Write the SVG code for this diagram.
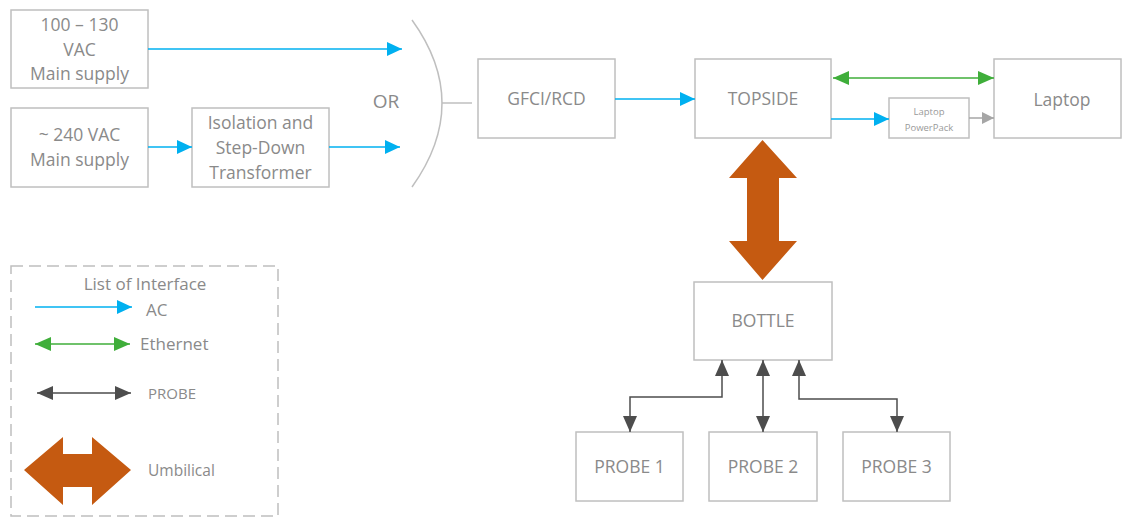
<svg xmlns="http://www.w3.org/2000/svg" width="1122" height="518" viewBox="0 0 1122 518">
<defs>
<style>
.box{fill:#fff;stroke:#bfbfbf;stroke-width:1.5}
.t{font-family:"Open Sans","Noto Sans",sans-serif;font-size:17.5px;fill:#8a8a8a;text-anchor:middle}
.ts{font-family:"Open Sans","Noto Sans",sans-serif;font-size:9.5px;fill:#9a9a9a;text-anchor:middle}
.tl{font-family:"Open Sans","Noto Sans",sans-serif;font-size:17px;fill:#8a8a8a}
.ac{stroke:#00b0f0;stroke-width:1.5;fill:none}
.eth{stroke:#3fae3a;stroke-width:1.5;fill:none}
.pr{stroke:#4d4d4d;stroke-width:1.5;fill:none}
.gr{stroke:#a6a6a6;stroke-width:1.5;fill:none}
.umb{fill:#c55a11}
</style>
<marker id="mAc" markerUnits="userSpaceOnUse" markerWidth="15" markerHeight="14" viewBox="0 0 15 14" refX="15" refY="7" orient="auto-start-reverse"><path d="M0,0 L15,7 L0,14 Z" fill="#00b0f0"/></marker>
<marker id="mEth" markerUnits="userSpaceOnUse" markerWidth="16" markerHeight="14" viewBox="0 0 16 14" refX="16" refY="7" orient="auto-start-reverse"><path d="M0,0 L16,7 L0,14 Z" fill="#3fae3a"/></marker>
<marker id="mPr" markerUnits="userSpaceOnUse" markerWidth="16" markerHeight="14" viewBox="0 0 16 14" refX="16" refY="7" orient="auto-start-reverse"><path d="M0,0 L16,7 L0,14 Z" fill="#4d4d4d"/></marker>
<marker id="mGr" markerUnits="userSpaceOnUse" markerWidth="12" markerHeight="12" viewBox="0 0 12 12" refX="12" refY="6" orient="auto-start-reverse"><path d="M0,0 L12,6 L0,12 Z" fill="#a6a6a6"/></marker>
</defs>

<g id="supply1"><rect class="box" x="11" y="10" width="137" height="78"/>
<text class="t" x="79.5" y="31">100 – 130</text><text class="t" x="79.5" y="56">VAC</text><text class="t" x="79.5" y="80">Main supply</text></g>
<g id="supply2"><rect class="box" x="11" y="108" width="137" height="79"/>
<text class="t" x="79.5" y="141">~ 240 VAC</text><text class="t" x="79.5" y="166">Main supply</text></g>
<g id="isolation"><rect class="box" x="192" y="108" width="137" height="79"/>
<text class="t" x="260.5" y="129">Isolation and</text><text class="t" x="260.5" y="154">Step-Down</text><text class="t" x="260.5" y="179">Transformer</text></g>
<g id="or"><path d="M412,20 Q472,103 412,187" fill="none" stroke="#bfbfbf" stroke-width="1.5"/>
<line x1="442" y1="103" x2="472" y2="103" stroke="#bfbfbf" stroke-width="1.5"/>
<text class="t" x="386" y="108" style="font-size:19px">OR</text></g>
<g id="gfci"><rect class="box" x="478" y="59" width="137" height="79"/><text class="t" x="546.5" y="105">GFCI/RCD</text></g>
<g id="topside"><rect class="box" x="695" y="59" width="136" height="79"/><text class="t" x="763" y="105">TOPSIDE</text></g>
<g id="powerpack"><rect class="box" x="889" y="98" width="80" height="40"/><text class="ts" x="929" y="115">Laptop</text><text class="ts" x="929" y="131">PowerPack</text></g>
<g id="laptop"><rect class="box" x="994" y="59" width="127" height="79"/><text class="t" x="1062" y="106">Laptop</text></g>
<g id="bottle"><rect class="box" x="694" y="282" width="138" height="78"/><text class="t" x="763" y="327">BOTTLE</text></g>
<g id="probe1"><rect class="box" x="576" y="432" width="107" height="69"/><text class="t" x="629.5" y="473">PROBE 1</text></g>
<g id="probe2"><rect class="box" x="709" y="432" width="108" height="69"/><text class="t" x="763" y="473">PROBE 2</text></g>
<g id="probe3"><rect class="box" x="843" y="432" width="107" height="69"/><text class="t" x="896.5" y="473">PROBE 3</text></g>

<g id="connectors">
<line class="ac" x1="148" y1="49" x2="402" y2="49" marker-end="url(#mAc)"/>
<line class="ac" x1="148" y1="147" x2="192" y2="147" marker-end="url(#mAc)"/>
<line class="ac" x1="329" y1="147" x2="400" y2="147" marker-end="url(#mAc)"/>
<line class="ac" x1="615" y1="99" x2="695" y2="99" marker-end="url(#mAc)"/>
<line class="ac" x1="831" y1="119" x2="889" y2="119" marker-end="url(#mAc)"/>
<line class="gr" x1="969" y1="118" x2="994" y2="118" marker-end="url(#mGr)"/>
<line class="eth" x1="833" y1="78" x2="994" y2="78" marker-start="url(#mEth)" marker-end="url(#mEth)"/>
<polygon class="umb" points="762.5,140 729,178 747,178 747,241 729,241 762.5,280 797,241 779,241 779,178 797,178"/>
<path class="pr" d="M722,360 V397 H630 V432" marker-start="url(#mPr)" marker-end="url(#mPr)"/>
<path class="pr" d="M763,360 V432" marker-start="url(#mPr)" marker-end="url(#mPr)"/>
<path class="pr" d="M799,360 V399 H897 V432" marker-start="url(#mPr)" marker-end="url(#mPr)"/>
</g>

<g id="legend">
<rect x="11" y="266" width="267" height="250" fill="none" stroke="#bfbfbf" stroke-width="1.5" stroke-dasharray="12,6"/>
<text class="tl" x="145" y="290" text-anchor="middle">List of Interface</text>
<line class="ac" x1="35" y1="307" x2="132" y2="307" marker-end="url(#mAc)"/>
<text class="tl" x="146" y="316">AC</text>
<line class="eth" x1="35" y1="344" x2="130" y2="344" marker-start="url(#mEth)" marker-end="url(#mEth)"/>
<text class="tl" x="140" y="350">Ethernet</text>
<line class="pr" x1="37" y1="393" x2="131" y2="393" marker-start="url(#mPr)" marker-end="url(#mPr)"/>
<text class="tl" x="148" y="399" style="font-size:15px">PROBE</text>
<polygon class="umb" points="24,470 63,437 63,454 92,454 92,437 131,470 92,505 92,487 63,487 63,505"/>
<text class="tl" x="148" y="476" style="font-size:15.5px">Umbilical</text>
</g>
</svg>
